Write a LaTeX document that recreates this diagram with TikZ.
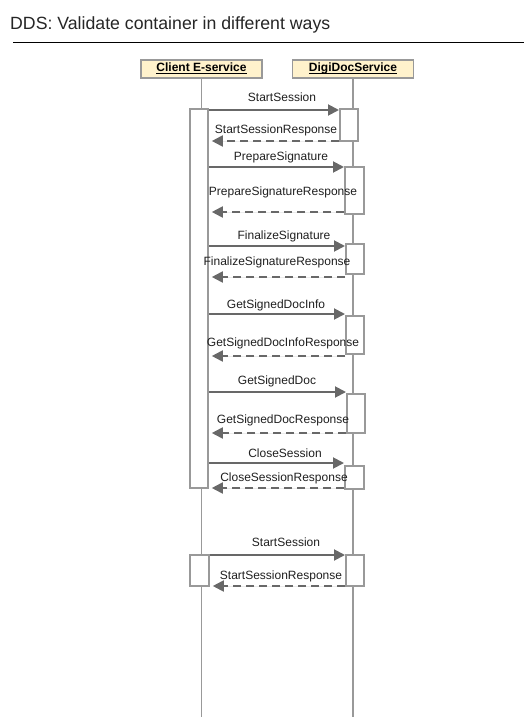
\documentclass[tikz,border=0pt]{standalone}
\usepackage{fontspec}
\setmainfont{Liberation Sans}
\usetikzlibrary{arrows.meta}
\definecolor{linegray}{HTML}{999999}
\definecolor{arrowgray}{HTML}{686868}
\definecolor{headfill}{HTML}{FFF2CC}
\newcommand\headname[1]{\underline{\smash{#1}}\vphantom{Dg}}
\begin{document}
\begin{tikzpicture}[x=1pt,y=-1pt,
    head/.style={draw=linegray,line width=1.8pt,fill=headfill,minimum width=121pt,
      minimum height=18pt,inner sep=0pt,font=\fontsize{12}{14}\selectfont\bfseries},
    act/.style={draw=linegray,line width=1.8pt,fill=white,minimum width=18pt,
      inner sep=0pt,anchor=north west},
    life/.style={draw=linegray,line width=1.6pt},
    call/.style={draw=arrowgray,fill=arrowgray,line width=1.9pt,
      -{Triangle[length=11pt,width=11pt]}},
    reply/.style={call,dash pattern=on 8pt off 5pt,shorten >=3pt},
    lbl/.style={font=\fontsize{12}{14}\selectfont,text=black!88,anchor=base,inner sep=0pt}]
  \useasboundingbox (0,0) rectangle (524,717);
  % title
  \node [anchor=base west,inner sep=0pt,font=\fontsize{17.7}{20}\selectfont,text=black!85]
    (title) at (10,30) {DDS: Validate container in different ways};
  \draw [line width=.8pt] (13,42) -- (524,42);
  % participants
  \node [head] (client) at (201.5,69) {\headname{Client E-service}};
  \node [head] (dds) at (353,69) {\headname{DigiDocService}};
  \coordinate (clientend) at (201.5,717);
  \coordinate (ddsend) at (353,717);
  \draw [life] (client) -- (clientend);
  \draw [life] (dds) -- (ddsend);
  % activations
  \node [act,minimum height=379pt] (cbar) at (189,108) {};
  \node [act,minimum width=19pt,minimum height=31pt] (cbar2) at (189,554) {};
  \node [act,minimum height=32pt] (s1) at (339,108) {};
  \node [act,minimum width=19pt,minimum height=47pt] (s2) at (344,166) {};
  \node [act,minimum height=30pt] (s3) at (345,243) {};
  \node [act,minimum height=38pt] (s4) at (345,315) {};
  \node [act,minimum height=39pt] (s5) at (346,393) {};
  \node [act,minimum width=19pt,minimum height=23pt] (s6) at (344,465) {};
  \node [act,minimum height=31pt] (s7) at (345,554) {};
  % messages
  \draw [call] (cbar.east |- 0,110) -- (s1.west |- 0,110);
  \draw [reply] (s1.west |- 0,141) -- (cbar.east |- 0,141);
  \draw [call] (cbar.east |- 0,167) -- (s2.west |- 0,167);
  \draw [reply] (s2.west |- 0,212) -- (cbar.east |- 0,212);
  \draw [call] (cbar.east |- 0,246) -- (s3.west |- 0,246);
  \draw [reply] (s3.west |- 0,277) -- (cbar.east |- 0,277);
  \draw [call] (cbar.east |- 0,314) -- (s4.west |- 0,314);
  \draw [reply] (s4.west |- 0,356) -- (cbar.east |- 0,356);
  \draw [call] (cbar.east |- 0,392) -- (s5.west |- 0,392);
  \draw [reply] (s5.west |- 0,433) -- (cbar.east |- 0,433);
  \draw [call] (cbar.east |- 0,463) -- (s6.west |- 0,463);
  \draw [reply] (s6.west |- 0,488) -- (cbar.east |- 0,488);
  \draw [call] (cbar2.east |- 0,555) -- (s7.west |- 0,555);
  \draw [reply] (s7.west |- 0,586) -- (cbar2.east |- 0,586);
  % labels
  \node [lbl] (m1) at (282,101) {StartSession};
  \node [lbl] (r1) at (276,133) {StartSessionResponse};
  \node [lbl] (m2) at (281,160) {PrepareSignature};
  \node [lbl] (r2) at (283,195) {PrepareSignatureResponse};
  \node [lbl] (m3) at (284,239) {FinalizeSignature};
  \node [lbl] (r3) at (277,265) {FinalizeSignatureResponse};
  \node [lbl] (m4) at (276,308) {GetSignedDocInfo};
  \node [lbl] (r4) at (283,346) {GetSignedDocInfoResponse};
  \node [lbl] (m5) at (277,384) {GetSignedDoc};
  \node [lbl] (r5) at (283,423) {GetSignedDocResponse};
  \node [lbl] (m6) at (285,457) {CloseSession};
  \node [lbl] (r6) at (284,481) {CloseSessionResponse};
  \node [lbl] (m7) at (286,546) {StartSession};
  \node [lbl] (r7) at (281,579) {StartSessionResponse};
\end{tikzpicture}
\end{document}
